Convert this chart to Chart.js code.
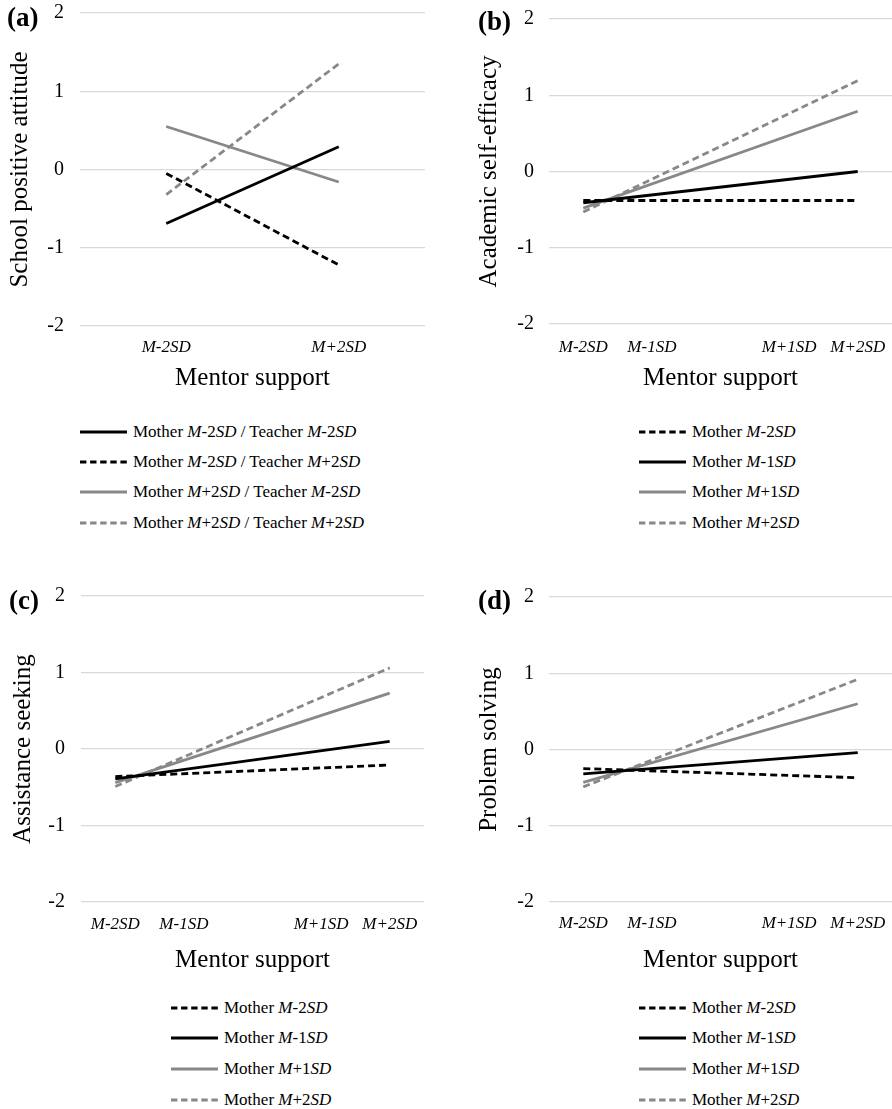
<!DOCTYPE html>
<html>
<head>
<meta charset="utf-8">
<script src="https://cdn.jsdelivr.net/npm/chart.js@4/dist/chart.umd.min.js"></script>
<style>
  html, body { margin:0; padding:0; background:#fff; }
  #wrap { position:relative; width:892px; height:1109px; background:#fff; overflow:hidden; }
  canvas { position:absolute; }
  .plabel { position:absolute; font: bold 27px 'Liberation Serif', 'Times New Roman', serif; line-height:1; transform: translateY(-50%); color:#000; }
  .leg { position:absolute; display:flex; align-items:center; font: 17px 'Liberation Serif', 'Times New Roman', serif; line-height:20px; height:20px; transform: translateY(-50%); color:#000; white-space:nowrap; }
  .leg svg { margin-right:6px; flex:none; }
</style>
</head>
<body>
<div id="wrap">
  <canvas id="ca" width="446" height="400" style="left:0;top:0"></canvas>
  <canvas id="cb" width="446" height="400" style="left:446px;top:0"></canvas>
  <canvas id="cc" width="446" height="400" style="left:0;top:580px"></canvas>
  <canvas id="cd" width="446" height="400" style="left:446px;top:580px"></canvas>
  <div class="plabel" style="left:7px;top:17px">(a)</div>
  <div class="plabel" style="left:478px;top:21px">(b)</div>
  <div class="plabel" style="left:9px;top:600px">(c)</div>
  <div class="plabel" style="left:478px;top:600px">(d)</div>
  <div id="legends"></div>
</div>
<script>
// ---------- DATA ----------
const yTickValues = [-2, -1, 0, 1, 2];

// Panel (a): School positive attitude
const aXValues = [-2, 2];
const aTickLabels = ['M-2SD', 'M+2SD'];
const aM2T2 = [-0.69, 0.29];     // Mother M-2SD / Teacher M-2SD
const aM2Tp2 = [-0.05, -1.22];   // Mother M-2SD / Teacher M+2SD
const aP2T2 = [0.55, -0.16];     // Mother M+2SD / Teacher M-2SD
const aP2Tp2 = [-0.32, 1.35];    // Mother M+2SD / Teacher M+2SD

// Panels (b)-(d)
const mXValues = [-2, 2];
const mTickValues = [-2, -1, 1, 2];
const mTickLabels = ['M-2SD', 'M-1SD', 'M+1SD', 'M+2SD'];

// (b) Academic self-efficacy
const bMotherM2 = [-0.38, -0.38];
const bMotherM1 = [-0.41, 0.00];
const bMotherP1 = [-0.48, 0.79];
const bMotherP2 = [-0.53, 1.19];

// (c) Assistance seeking
const cMotherM2 = [-0.36, -0.21];
const cMotherM1 = [-0.39, 0.10];
const cMotherP1 = [-0.44, 0.73];
const cMotherP2 = [-0.49, 1.06];

// (d) Problem solving
const dMotherM2 = [-0.25, -0.37];
const dMotherM1 = [-0.32, -0.04];
const dMotherP1 = [-0.43, 0.60];
const dMotherP2 = [-0.49, 0.92];

// ---------- STYLE ----------
const FAM = "'Liberation Serif', 'Times New Roman', serif";
const BLACK = '#000000';
const GRAY = '#888888';
const DASH = [7, 4];

function series(label, html, values, color, dashed) {
  return { label, html, values, color, dashed };
}

function makeChart(id, cfg) {
  const labelMap = {};
  cfg.tickValues.forEach((v, i) => { labelMap[v] = cfg.tickLabels[i]; });
  new Chart(document.getElementById(id), {
    type: 'line',
    data: {
      datasets: cfg.series.map(s => ({
        label: s.label,
        data: cfg.xValues.map((x, i) => ({ x: x, y: s.values[i] })),
        borderColor: s.color,
        backgroundColor: s.color,
        borderWidth: 2.8,
        borderDash: s.dashed ? DASH : [],
        pointRadius: 0,
        fill: false,
        tension: 0
      }))
    },
    options: {
      responsive: false,
      animation: false,
      events: [],
      layout: { padding: { left: 0, right: cfg.padRight, top: cfg.top, bottom: 0 } },
      plugins: { legend: { display: false }, tooltip: { enabled: false } },
      scales: {
        x: {
          type: 'linear',
          min: cfg.xmin, max: cfg.xmax,
          grid: { display: false, drawTicks: false },
          border: { display: false },
          afterBuildTicks: s => { s.ticks = cfg.tickValues.map(v => ({ value: v })); },
          ticks: {
            callback: v => labelMap[v],
            font: { family: FAM, size: 17, style: 'italic' },
            color: '#000',
            padding: cfg.xTickPad,
            maxRotation: 0,
            autoSkip: false
          },
          title: {
            display: true, text: 'Mentor support',
            font: { family: FAM, size: 25 }, color: '#000',
            padding: { top: 0, bottom: cfg.xTitlePad }
          },
          afterFit: s => { s.height = cfg.xAxisH; s.paddingLeft = 0; s.paddingRight = 0; s.paddingTop = 0; s.paddingBottom = 0; }
        },
        y: {
          min: -2, max: 2,
          afterBuildTicks: s => { s.ticks = yTickValues.map(v => ({ value: v })); },
          grid: { color: '#d9d9d9', lineWidth: 1.2, drawTicks: false },
          border: { display: false },
          ticks: {
            font: { family: FAM, size: 20 }, color: '#000',
            padding: cfg.yTickPad,
            callback: v => String(v)
          },
          title: {
            display: true, text: cfg.yTitle,
            font: { family: FAM, size: 25 }, color: '#000',
            padding: { top: cfg.yTitlePad, bottom: 0 }
          },
          afterFit: s => { s.width = cfg.yAxisW; s.paddingLeft = 0; s.paddingRight = 0; s.paddingTop = 0; s.paddingBottom = 0; }
        }
      }
    }
  });
}

const aSeries = [
  series('Mother M-2SD / Teacher M-2SD', 'Mother <i>M</i>-2<i>SD</i> / Teacher <i>M</i>-2<i>SD</i>', aM2T2, BLACK, false),
  series('Mother M-2SD / Teacher M+2SD', 'Mother <i>M</i>-2<i>SD</i> / Teacher <i>M</i>+2<i>SD</i>', aM2Tp2, BLACK, true),
  series('Mother M+2SD / Teacher M-2SD', 'Mother <i>M</i>+2<i>SD</i> / Teacher <i>M</i>-2<i>SD</i>', aP2T2, GRAY, false),
  series('Mother M+2SD / Teacher M+2SD', 'Mother <i>M</i>+2<i>SD</i> / Teacher <i>M</i>+2<i>SD</i>', aP2Tp2, GRAY, true)
];
function motherSeries(m2, m1, p1, p2) {
  return [
    series('Mother M-2SD', 'Mother <i>M</i>-2<i>SD</i>', m2, BLACK, true),
    series('Mother M-1SD', 'Mother <i>M</i>-1<i>SD</i>', m1, BLACK, false),
    series('Mother M+1SD', 'Mother <i>M</i>+1<i>SD</i>', p1, GRAY, false),
    series('Mother M+2SD', 'Mother <i>M</i>+2<i>SD</i>', p2, GRAY, true)
  ];
}
const bSeries = motherSeries(bMotherM2, bMotherM1, bMotherP1, bMotherP2);
const cSeries = motherSeries(cMotherM2, cMotherM1, cMotherP1, cMotherP2);
const dSeries = motherSeries(dMotherM2, dMotherM1, dMotherP1, dMotherP2);

makeChart('ca', {
  series: aSeries, xValues: aXValues, tickValues: aXValues, tickLabels: aTickLabels,
  xmin: -4, xmax: 4, yTitle: 'School positive attitude',
  top: 13, padRight: 21, xAxisH: 74, yAxisW: 80,
  xTickPad: 11, xTitlePad: 7, yTickPad: 16, yTitlePad: 5
});
makeChart('cb', {
  series: bSeries, xValues: mXValues, tickValues: mTickValues, tickLabels: mTickLabels,
  xmin: -2.5, xmax: 2.5, yTitle: 'Academic self-efficacy',
  top: 19, padRight: 0, xAxisH: 76, yAxisW: 103,
  xTickPad: 13, xTitlePad: 7, yTickPad: 15, yTitlePad: 28
});
makeChart('cc', {
  series: cSeries, xValues: mXValues, tickValues: mTickValues, tickLabels: mTickLabels,
  xmin: -2.5, xmax: 2.5, yTitle: 'Assistance seeking',
  top: 16, padRight: 22, xAxisH: 78, yAxisW: 81,
  xTickPad: 12, xTitlePad: 5, yTickPad: 16, yTitlePad: 8
});
makeChart('cd', {
  series: dSeries, xValues: mXValues, tickValues: mTickValues, tickLabels: mTickLabels,
  xmin: -2.5, xmax: 2.5, yTitle: 'Problem solving',
  top: 17, padRight: 0, xAxisH: 78, yAxisW: 103,
  xTickPad: 11, xTitlePad: 5, yTickPad: 15, yTitlePad: 28
});

// ---------- LEGENDS (HTML, built from the series) ----------
function makeLegend(list, left, ys) {
  const host = document.getElementById('legends');
  list.forEach((s, i) => {
    const row = document.createElement('div');
    row.className = 'leg';
    row.style.left = left + 'px';
    row.style.top = ys[i] + 'px';
    const dash = s.dashed ? 'stroke-dasharray="6.4,3.7"' : '';
    row.innerHTML = '<svg width="47" height="6"><line x1="0" y1="3" x2="47" y2="3" stroke="' + s.color + '" stroke-width="2.8" ' + dash + '/></svg><span>' + s.html + '</span>';
    host.appendChild(row);
  });
}
const topRows = [432, 462, 492, 523];
const botRows = [1008, 1038, 1069, 1100];
makeLegend(aSeries, 80, topRows);
makeLegend(bSeries, 639, topRows);
makeLegend(cSeries, 171, botRows);
makeLegend(dSeries, 639, botRows);
</script>
</body>
</html>
